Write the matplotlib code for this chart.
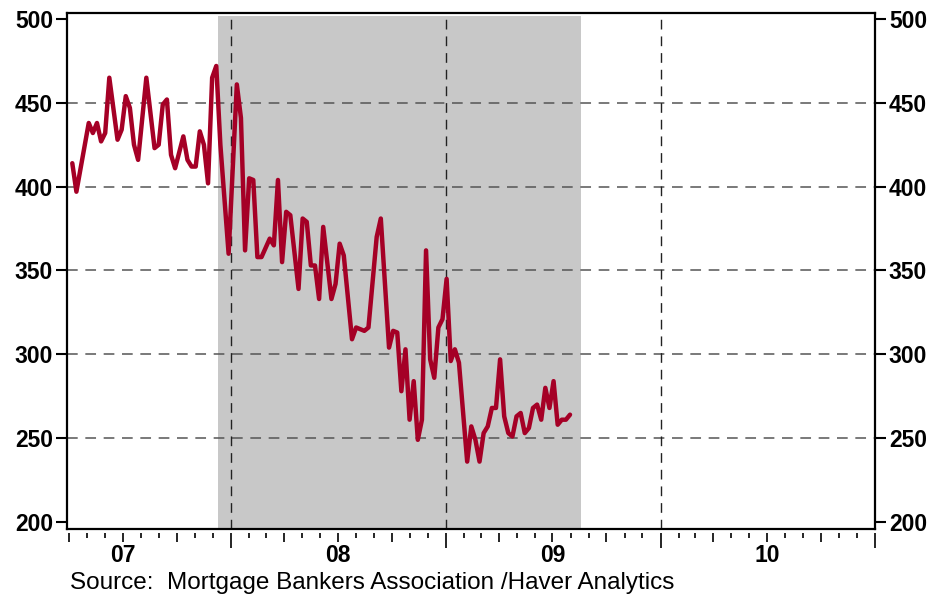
import numpy as np
import pandas as pd
import matplotlib
matplotlib.use("Agg")
import matplotlib.pyplot as plt
import matplotlib.dates as mdates

plt.rcParams['font.family'] = ['Liberation Sans', 'DejaVu Sans']

# Weekly index (weeks after 6 Apr 2007)
start_week = '2007-04-06'
week_no = [0, 1, 4, 5, 6, 7, 8, 9, 11, 12, 13, 14, 15, 16, 18, 20, 21, 22, 23, 24, 25,
           27, 28, 29, 30, 31, 32, 33, 34, 35, 36, 38, 40, 41, 42, 43, 44, 45, 46,
           48, 49, 50, 51, 52, 53, 55, 56, 57, 58, 59, 60, 61, 63, 64, 65, 66,
           68, 69, 70, 71, 72, 74, 75, 77, 78, 79, 80, 81, 82, 83, 84, 85, 86, 87,
           88, 89, 90, 91, 92, 93, 94, 96, 97, 98, 99, 100, 101, 102, 103, 104, 105,
           106, 107, 108, 109, 110, 111, 112, 113, 114, 115, 116, 117, 118, 119, 120, 121]
index_values = [414, 397, 438, 432, 438, 427, 432, 465, 428, 434, 454, 447, 425, 416,
                465, 423, 425, 449, 452, 419, 411, 430, 416, 412, 412, 433, 425, 402,
                465, 472, 425, 360, 461, 441, 362, 405, 404, 358, 358, 369, 365, 404,
                355, 385, 383, 339, 381, 379, 353, 353, 333, 376, 333, 342, 366, 359,
                309, 316, 315, 314, 316, 370, 381, 304, 314, 313, 278, 303, 261, 284,
                249, 261, 362, 297, 286, 316, 321, 345, 296, 303, 295, 236, 257, 249,
                236, 253, 257, 268, 268, 297, 263, 253, 251, 263, 265, 253, 256, 268,
                270, 261, 280, 268, 284, 258, 261, 261, 264]

recession = ('2007-12-10', '2009-08-19')
year_lines = ['2008-01-01', '2009-01-01', '2010-01-01']
year_labels = ['07', '08', '09', '10']
y_grid = [250, 300, 350, 400, 450]

dates = pd.Timestamp(start_week) + pd.to_timedelta(np.array(week_no) * 7, unit='D')

fig = plt.figure(figsize=(9.37, 5.95), dpi=100)
ax = fig.add_axes([67 / 937, 1 - 529 / 595, (875 - 67) / 937, (529 - 13) / 595])

ymin, ymax = 195.8, 503.6
ax.set_ylim(ymin, ymax)
ax.set_xlim(pd.Timestamp('2007-03-28'), pd.Timestamp('2011-01-01'))

# recession shading
ax.axvspan(pd.Timestamp(recession[0]), pd.Timestamp(recession[1]),
           ymin=0, ymax=(501.8 - ymin) / (ymax - ymin), color='#c8c8c8', lw=0, zorder=0)

for v in y_grid:
    ax.axhline(v, color='#555555', lw=1.1, ls=(0, (7, 5)), zorder=1)
for d in year_lines:
    ax.axvline(pd.Timestamp(d), color='#222222', lw=1.0, ls=(0, (7, 5)), zorder=1)

ax.plot(dates, index_values, color='#a50026', lw=3.2, zorder=3,
        solid_joinstyle='round', solid_capstyle='round')

for s in ax.spines.values():
    s.set_linewidth(1.6)

# y axis: both sides
ax.set_yticks(range(200, 501, 50))
ax.tick_params(axis='y', which='major', direction='out', length=8, width=1.5,
               left=True, right=True, labelleft=True, labelright=True,
               labelsize=16.5, pad=2)
for lbl in ax.get_yticklabels():
    lbl.set_fontweight('bold')

# x axis ticks sit a little below the frame
ax.tick_params(axis='x', which='both', bottom=False, labelbottom=False)
off = -4 / 516

months = [mdates.date2num(d) for d in pd.date_range('2007-04-01', '2010-12-01', freq='MS')
          if d.month not in (1, 4, 7, 10)]
sec_m = ax.secondary_xaxis(off)
sec_m.spines['bottom'].set_visible(False)
sec_m.set_xticks(months)
sec_m.set_xticklabels([''] * len(months))
sec_m.tick_params(axis='x', direction='out', length=3.8, width=1.2)

years = [mdates.date2num(pd.Timestamp(y, 1, 1)) for y in range(2008, 2012)]
sec_y = ax.secondary_xaxis(off)
sec_y.spines['bottom'].set_visible(False)
sec_y.set_xticks(years)
sec_y.set_xticklabels([''] * len(years))
sec_y.tick_params(axis='x', direction='out', length=11, width=1.2)

# quarter ticks with year labels at mid-year
q_dates = []
q_labels = []
for yr, lab in zip(range(2007, 2011), year_labels):
    for m in (4, 7, 10):
        q_dates.append(mdates.date2num(pd.Timestamp(yr, m, 1)))
        q_labels.append(lab if m == 7 else '')
sec_q = ax.secondary_xaxis(off)
sec_q.spines['bottom'].set_visible(False)
sec_q.set_xticks(q_dates)
sec_q.set_xticklabels(q_labels, fontsize=16.5, fontweight='bold')
sec_q.tick_params(axis='x', direction='out', length=6.5, width=1.2, pad=1.5)

for s in (sec_m, sec_y, sec_q):
    s.xaxis.set_minor_locator(plt.NullLocator())

fig.text(70 / 937, 1 - 589 / 595, 'Source:  Mortgage Bankers Association /Haver Analytics',
         fontsize=17.5, va='baseline', ha='left')

fig.savefig('out.png', dpi=100)
